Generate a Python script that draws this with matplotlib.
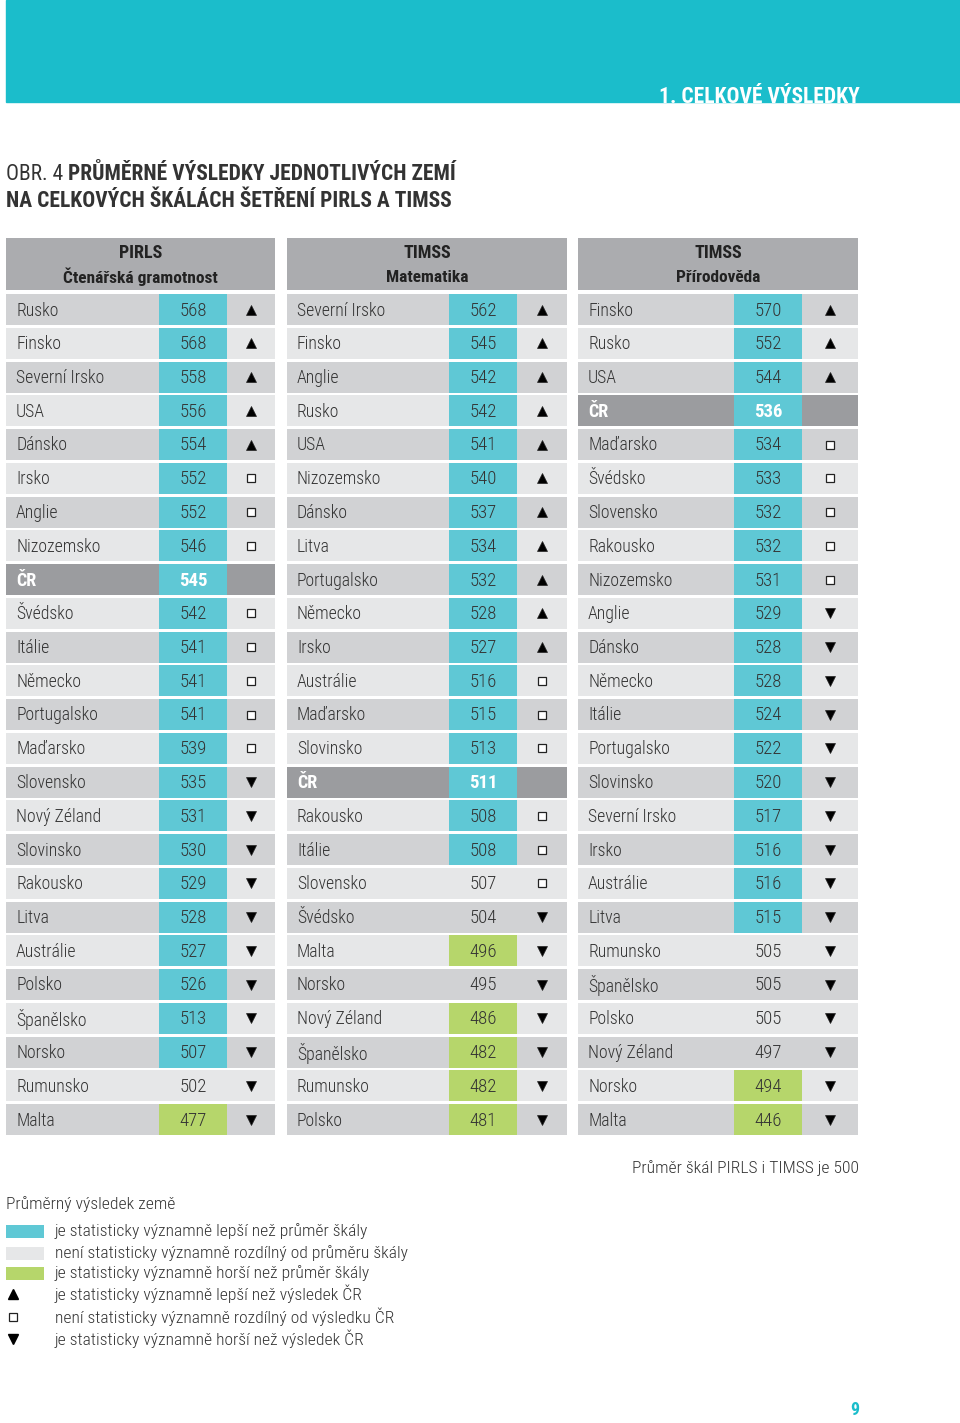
import matplotlib.pyplot as plt
from matplotlib import font_manager
from matplotlib.patches import Rectangle

# pick a narrow sans if there is one
installed = {f.name for f in font_manager.fontManager.ttflist}
FONT = 'DejaVu Sans'
for cand in ['Liberation Sans Narrow', 'Roboto Condensed', 'Open Sans Condensed', 'Lato']:
    if cand in installed:
        FONT = cand
        break
plt.rcParams['font.family'] = [FONT, 'DejaVu Sans']

# data: country, score, vs. scale mean (B better, G not different, W worse), vs. CR (U, S, D, C = CR itself)
pirls_countries = ['Rusko', 'Finsko', 'Severní Irsko', 'USA', 'Dánsko', 'Irsko', 'Anglie', 'Nizozemsko',
                   'ČR', 'Švédsko', 'Itálie', 'Německo', 'Portugalsko', 'Maďarsko', 'Slovensko',
                   'Nový Zéland', 'Slovinsko', 'Rakousko', 'Litva', 'Austrálie', 'Polsko', 'Španělsko',
                   'Norsko', 'Rumunsko', 'Malta']
pirls_scores = [568, 568, 558, 556, 554, 552, 552, 546, 545, 542, 541, 541, 541, 539, 535,
                531, 530, 529, 528, 527, 526, 513, 507, 502, 477]
pirls_mean = ['B'] * 23 + ['G', 'W']
pirls_cr = ['U'] * 5 + ['S'] * 3 + ['C'] + ['S'] * 5 + ['D'] * 11

math_countries = ['Severní Irsko', 'Finsko', 'Anglie', 'Rusko', 'USA', 'Nizozemsko', 'Dánsko', 'Litva',
                  'Portugalsko', 'Německo', 'Irsko', 'Austrálie', 'Maďarsko', 'Slovinsko', 'ČR',
                  'Rakousko', 'Itálie', 'Slovensko', 'Švédsko', 'Malta', 'Norsko', 'Nový Zéland',
                  'Španělsko', 'Rumunsko', 'Polsko']
math_scores = [562, 545, 542, 542, 541, 540, 537, 534, 532, 528, 527, 516, 515, 513, 511,
               508, 508, 507, 504, 496, 495, 486, 482, 482, 481]
math_mean = ['B'] * 17 + ['G', 'G', 'W', 'G', 'W', 'W', 'W', 'W']
math_cr = ['U'] * 11 + ['S'] * 3 + ['C'] + ['S'] * 3 + ['D'] * 7

sci_countries = ['Finsko', 'Rusko', 'USA', 'ČR', 'Maďarsko', 'Švédsko', 'Slovensko', 'Rakousko',
                 'Nizozemsko', 'Anglie', 'Dánsko', 'Německo', 'Itálie', 'Portugalsko', 'Slovinsko',
                 'Severní Irsko', 'Irsko', 'Austrálie', 'Litva', 'Rumunsko', 'Španělsko', 'Polsko',
                 'Nový Zéland', 'Norsko', 'Malta']
sci_scores = [570, 552, 544, 536, 534, 533, 532, 532, 531, 529, 528, 528, 524, 522, 520,
              517, 516, 516, 515, 505, 505, 505, 497, 494, 446]
sci_mean = ['B'] * 19 + ['G'] * 4 + ['W', 'W']
sci_cr = ['U'] * 3 + ['C'] + ['S'] * 5 + ['D'] * 16

headers = [('PIRLS', 'Čtenářská gramotnost'), ('TIMSS', 'Matematika'), ('TIMSS', 'Přírodověda')]

legend_labels = ['je statisticky významně lepší než průměr škály',
                 'není statisticky významně rozdílný od průměru škály',
                 'je statisticky významně horší než průměr škály',
                 'je statisticky významně lepší než výsledek ČR',
                 'není statisticky významně rozdílný od výsledku ČR',
                 'je statisticky významně horší než výsledek ČR']

# colours
CYAN = '#1bbdcb'
BLUE = '#5fc8d5'
GREEN = '#b6d66b'
ROW_DARK = '#d1d2d4'
ROW_LIGHT = '#e6e7e8'
HEAD = '#abacaf'
CR_GRAY = '#9b9c9f'
TXT = '#333333'
mean_col = {'B': BLUE, 'W': GREEN}

fig = plt.figure(figsize=(9.6, 14.23), dpi=100)
ax = fig.add_axes([0, 0, 1, 1])
ax.set_xlim(0, 960)
ax.set_ylim(1423, 0)
ax.axis('off')

# banner
banner = Rectangle((6, 0), 954, 102, color=CYAN)
ax.add_patch(banner)
t = ax.text(860, 97, '1. CELKOVÉ VÝSLEDKY', color='white', fontsize=15.5, fontweight='bold',
            ha='right', va='center')
t.set_clip_path(banner)

obr = ax.text(6, 174, 'OBR. 4 ', fontsize=15.5, color=TXT, va='center')
ax.annotate('PRŮMĚRNÉ VÝSLEDKY JEDNOTLIVÝCH ZEMÍ', xy=(1, 0.5), xycoords=obr,
            fontsize=15.5, fontweight='bold', color=TXT, va='center')
ax.text(6, 201, 'NA CELKOVÝCH ŠKÁLÁCH ŠETŘENÍ PIRLS A TIMSS', fontsize=15.5, fontweight='bold',
        color=TXT, va='center')

# table layout (pixels): left, value start, value end, right
cols = [(6, 159, 227, 275), (287, 449, 517, 567), (578, 734, 802, 858)]
tables = [(pirls_countries, pirls_scores, pirls_mean, pirls_cr),
          (math_countries, math_scores, math_mean, math_cr),
          (sci_countries, sci_scores, sci_mean, sci_cr)]
row_top, pitch, row_h = 294, 33.75, 31

for (x0, v0, v1, x1), (names, scores, means, crs), (h1, h2) in zip(cols, tables, headers):
    ax.barh(264, x1 - x0, left=x0, height=52, color=HEAD)
    ax.text((x0 + x1) / 2, 253, h1, ha='center', va='center', fontsize=13,
            fontweight='bold', color='#222222')
    ax.text((x0 + x1) / 2, 277, h2, ha='center', va='center', fontsize=12.5,
            fontweight='bold', color='#222222')

    ys = [row_top + i * pitch + row_h / 2 for i in range(len(names))]
    base = [CR_GRAY if c == 'C' else (ROW_DARK if i % 2 == 0 else ROW_LIGHT)
            for i, c in enumerate(crs)]
    vcol = [mean_col.get(m, b) for m, b in zip(means, base)]
    ax.barh(ys, v0 - x0, left=x0, height=row_h, color=base)
    ax.barh(ys, v1 - v0, left=v0, height=row_h, color=vcol)
    ax.barh(ys, x1 - v1, left=v1, height=row_h, color=base)

    for y, n, s, c in zip(ys, names, scores, crs):
        if c == 'C':
            ax.text(x0 + 10, y + 1, n, va='center', fontsize=13, fontweight='bold', color='white')
            ax.text((v0 + v1) / 2, y + 1, str(s), ha='center', va='center', fontsize=13.5,
                    fontweight='bold', color='white')
        else:
            ax.text(x0 + 10, y + 1, n, va='center', fontsize=12.8, fontweight='light', color=TXT)
            ax.text((v0 + v1) / 2, y + 1, str(s), ha='center', va='center', fontsize=13.5,
                    fontweight='light', color=TXT)

    sx = (v1 + x1) / 2
    for code, mk, face in [('U', '^', 'black'), ('D', 'v', 'black'), ('S', 's', 'white')]:
        yy = [y for y, c in zip(ys, crs) if c == code]
        ax.plot([sx] * len(yy), yy, ls='none', marker=mk, ms=7 if mk != 's' else 5.5,
                mfc=face, mec='#222222', mew=0.9 if mk == 's' else 0.5)

# notes and legend
ax.text(859, 1168, 'Průměr škál PIRLS i TIMSS je 500', ha='right', va='center', fontsize=12.6,
        fontweight='light', color=TXT)
ax.text(6, 1204, 'Průměrný výsledek země', va='center', fontsize=12.6, fontweight='light', color=TXT)

leg_y = [1231, 1253, 1273, 1294, 1317, 1339]
for y, c in zip(leg_y[:3], [BLUE, ROW_LIGHT, GREEN]):
    ax.barh(y, 38, left=6, height=13, color=c)
ax.plot(13, leg_y[3], ls='none', marker='^', ms=7, color='black')
ax.plot(13, leg_y[4], ls='none', marker='s', ms=5.5, mfc='white', mec='#222222', mew=0.9)
ax.plot(13, leg_y[5], ls='none', marker='v', ms=7, color='black')
for y, lab in zip(leg_y, legend_labels):
    ax.text(55, y, lab, va='center', fontsize=12.6, fontweight='light', color=TXT)

ax.text(855, 1410, '9', ha='center', va='center', fontsize=13, fontweight='bold', color=CYAN)

fig.savefig('out.png', dpi=100)
